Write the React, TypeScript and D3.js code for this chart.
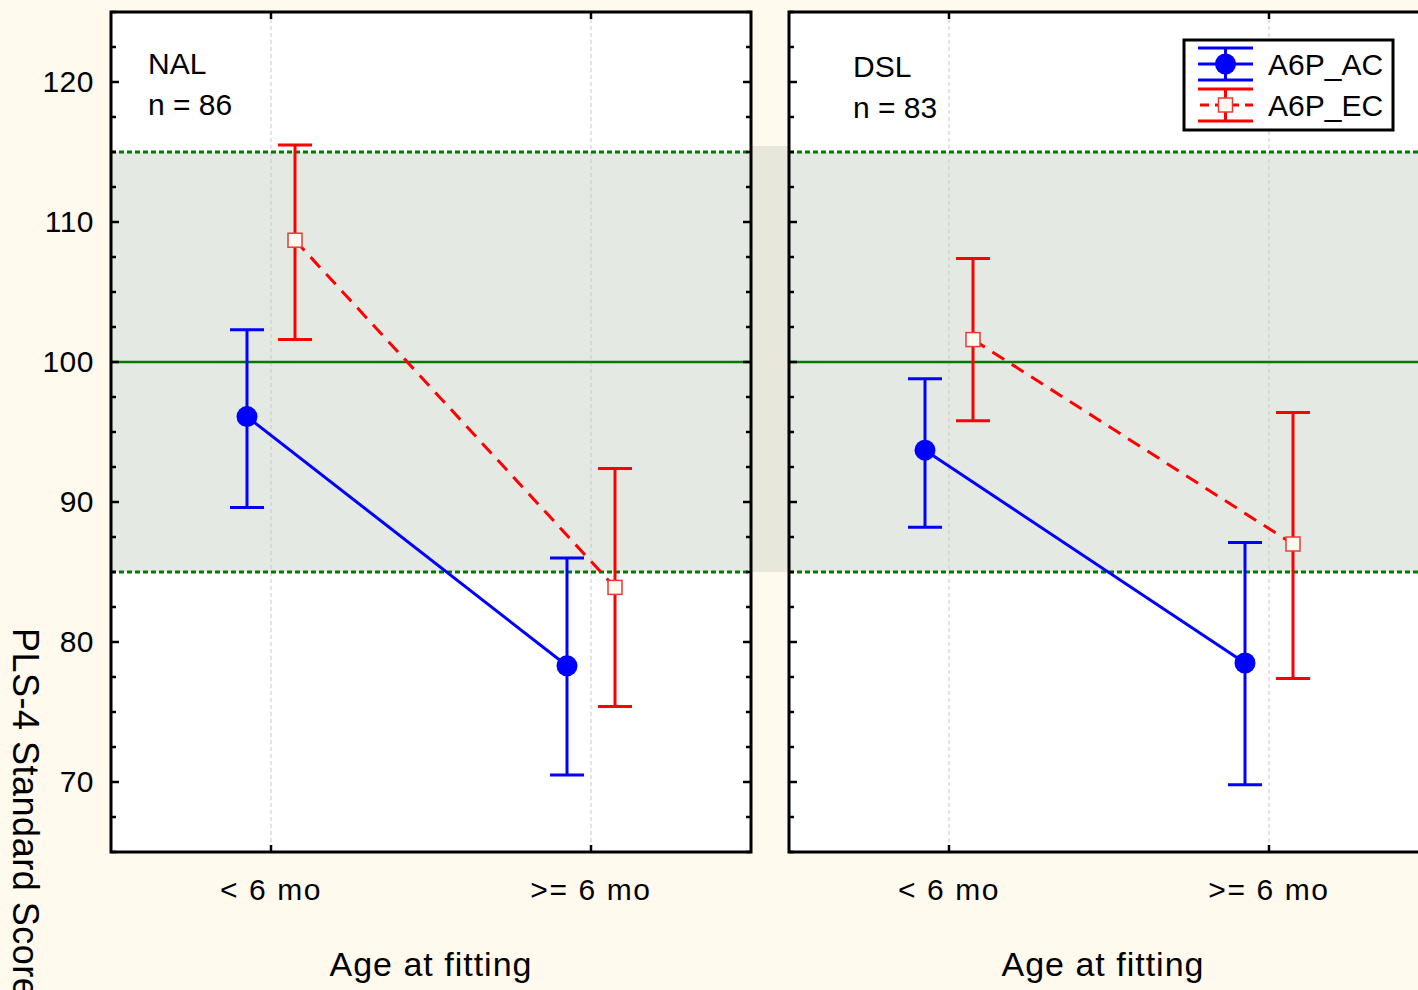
import React from "react";
import * as d3 from "d3";

const categories = ["< 6 mo", ">= 6 mo"];
const panelNames = ["NAL", "DSL"];
const panelN = ["n = 86", "n = 83"];
const seriesNames = ["A6P_AC", "A6P_EC"];

const nalACMean = [96.1, 78.3];
const nalACLow = [89.6, 70.5];
const nalACHigh = [102.3, 86.0];
const nalECMean = [108.7, 83.9];
const nalECLow = [101.6, 75.4];
const nalECHigh = [115.5, 92.4];

const dslACMean = [93.7, 78.5];
const dslACLow = [88.2, 69.8];
const dslACHigh = [98.8, 87.1];
const dslECMean = [101.6, 87.0];
const dslECLow = [95.8, 77.4];
const dslECHigh = [107.4, 96.4];

const yTickLabels = [70, 80, 90, 100, 110, 120];
const bandLow = 85;
const bandHigh = 115;
const refLine = 100;

const W = 1418;
const H = 990;
const FONT = "'Liberation Sans', Arial, Helvetica, sans-serif";
const BG = "#FFF9EE";

const top = 12;
const bottom = 852;
const panelW = 640;
const panelLefts = [111, 789];
const labelOffsets = [37, 64];
const labelY = [[74, 115], [77, 118]];
const titleCenters = [320, 314];

const y = d3.scaleLinear().domain([65, 125]).range([bottom, top]);

type Series = { mean: number[]; low: number[]; high: number[] };
const panels: { ac: Series; ec: Series }[] = [
  {
    ac: { mean: nalACMean, low: nalACLow, high: nalACHigh },
    ec: { mean: nalECMean, low: nalECLow, high: nalECHigh },
  },
  {
    ac: { mean: dslACMean, low: dslACLow, high: dslACHigh },
    ec: { mean: dslECMean, low: dslECLow, high: dslECHigh },
  },
];

const BLUE = "#0000FF";
const RED = "#FF0000";
const GREEN = "#007A00";
const BAND = "#E5E9E3";
const LW = 3;

function Panel({ idx }: { idx: number }) {
  const x0 = panelLefts[idx];
  const x = d3
    .scalePoint<string>()
    .domain(categories)
    .range([x0, x0 + panelW])
    .padding(0.5);
  const p = panels[idx];
  const off = 24;
  const capW = 34;
  const minorTicks = d3.range(65, 125.01, 2.5);
  const lineGen = d3
    .line<[number, number]>()
    .x((d) => d[0])
    .y((d) => d[1]);
  const acPts: [number, number][] = categories.map((c, i) => [x(c)! - off, y(p.ac.mean[i])]);
  const ecPts: [number, number][] = categories.map((c, i) => [x(c)! + off, y(p.ec.mean[i])]);
  const clipId = `clip${idx}`;
  return (
    <g>
      <defs>
        <clipPath id={clipId}>
          <rect x={x0} y={top} width={panelW} height={bottom - top} />
        </clipPath>
      </defs>
      <rect x={x0} y={top} width={panelW} height={bottom - top} fill="#FFFFFF" />
      <rect
        x={x0}
        y={y(bandHigh)}
        width={panelW}
        height={y(bandLow) - y(bandHigh)}
        fill={BAND}
      />
      {categories.map((c) => (
        <line
          key={c}
          x1={x(c)}
          x2={x(c)}
          y1={top}
          y2={bottom}
          stroke="#C8C8C8"
          strokeWidth={1}
          strokeDasharray="4,3"
        />
      ))}
      <g clipPath={`url(#${clipId})`}>
        {[bandHigh, bandLow].map((v) => (
          <line
            key={v}
            x1={x0}
            x2={x0 + panelW}
            y1={y(v)}
            y2={y(v)}
            stroke={GREEN}
            strokeWidth={3}
            strokeDasharray="5,3"
          />
        ))}
        <line x1={x0} x2={x0 + panelW} y1={y(refLine)} y2={y(refLine)} stroke={GREEN} strokeWidth={2.5} />
      </g>
      {/* AC series */}
      <path d={lineGen(acPts)!} fill="none" stroke={BLUE} strokeWidth={LW} />
      {categories.map((c, i) => {
        const cx = x(c)! - off;
        return (
          <g key={"ac" + c}>
            <line x1={cx} x2={cx} y1={y(p.ac.low[i])} y2={y(p.ac.high[i])} stroke={BLUE} strokeWidth={LW} />
            <line x1={cx - capW / 2} x2={cx + capW / 2} y1={y(p.ac.low[i])} y2={y(p.ac.low[i])} stroke={BLUE} strokeWidth={LW} />
            <line x1={cx - capW / 2} x2={cx + capW / 2} y1={y(p.ac.high[i])} y2={y(p.ac.high[i])} stroke={BLUE} strokeWidth={LW} />
            <circle cx={cx} cy={y(p.ac.mean[i])} r={10.5} fill={BLUE} />
          </g>
        );
      })}
      {/* EC series */}
      <path d={lineGen(ecPts)!} fill="none" stroke={RED} strokeWidth={LW} strokeDasharray="14,9" />
      {categories.map((c, i) => {
        const cx = x(c)! + off;
        return (
          <g key={"ec" + c}>
            <line x1={cx} x2={cx} y1={y(p.ec.low[i])} y2={y(p.ec.high[i])} stroke={RED} strokeWidth={LW} />
            <line x1={cx - capW / 2} x2={cx + capW / 2} y1={y(p.ec.low[i])} y2={y(p.ec.low[i])} stroke={RED} strokeWidth={LW} />
            <line x1={cx - capW / 2} x2={cx + capW / 2} y1={y(p.ec.high[i])} y2={y(p.ec.high[i])} stroke={RED} strokeWidth={LW} />
            <rect x={cx - 7} y={y(p.ec.mean[i]) - 7} width={14} height={14} fill={BG} stroke="#E83A3A" strokeWidth={1.5} />
          </g>
        );
      })}
      {/* ticks */}
      {minorTicks.map((v) => {
        const major = Math.abs(v % 10) < 1e-6;
        const len = major ? 8 : 5;
        return (
          <g key={"t" + v}>
            <line x1={x0} x2={x0 + len} y1={y(v)} y2={y(v)} stroke="#000" strokeWidth={2.5} />
            <line x1={x0 + panelW} x2={x0 + panelW - len} y1={y(v)} y2={y(v)} stroke="#000" strokeWidth={2.5} />
          </g>
        );
      })}
      {categories.map((c) => (
        <g key={"xt" + c}>
          <line x1={x(c)} x2={x(c)} y1={top} y2={top + 7} stroke="#000" strokeWidth={2.5} />
          <line x1={x(c)} x2={x(c)} y1={bottom} y2={bottom - 7} stroke="#000" strokeWidth={2.5} />
        </g>
      ))}
      <rect x={x0} y={top} width={panelW} height={bottom - top} fill="none" stroke="#000" strokeWidth={3} />
      {/* panel labels */}
      <text x={x0 + labelOffsets[idx]} y={labelY[idx][0]} fontSize={30} fontFamily={FONT} fill="#000">
        {panelNames[idx]}
      </text>
      <text x={x0 + labelOffsets[idx]} y={labelY[idx][1]} fontSize={30} fontFamily={FONT} fill="#000">
        {panelN[idx]}
      </text>
      {/* x tick labels */}
      {categories.map((c) => (
        <text
          key={"xl" + c}
          x={x(c)}
          y={900}
          fontSize={30}
          fontFamily={FONT}
          textAnchor="middle"
          letterSpacing={1.6}
          fill="#000"
        >
          {c}
        </text>
      ))}
      <text
        x={x0 + titleCenters[idx]}
        y={976}
        fontSize={34}
        fontFamily={FONT}
        textAnchor="middle"
        letterSpacing={1}
        fill="#000"
      >
        Age at fitting
      </text>
    </g>
  );
}

function Legend() {
  const bx = 1184;
  const by = 40;
  const bw = 209;
  const bh = 90;
  const sx0 = 1198;
  const sx1 = 1253;
  const scx = (sx0 + sx1) / 2;
  const rows = [64, 105];
  return (
    <g>
      <rect x={bx} y={by} width={bw} height={bh} fill="#FFFFFF" stroke="#000" strokeWidth={3} />
      {/* AC */}
      <line x1={sx0} x2={sx1} y1={rows[0] - 16} y2={rows[0] - 16} stroke={BLUE} strokeWidth={LW} />
      <line x1={sx0} x2={sx1} y1={rows[0] + 16} y2={rows[0] + 16} stroke={BLUE} strokeWidth={LW} />
      <line x1={sx0} x2={sx1} y1={rows[0]} y2={rows[0]} stroke={BLUE} strokeWidth={LW} />
      <line x1={scx} x2={scx} y1={rows[0] - 16} y2={rows[0] + 16} stroke={BLUE} strokeWidth={LW} />
      <circle cx={scx} cy={rows[0]} r={10.5} fill={BLUE} />
      {/* EC */}
      <line x1={sx0} x2={sx1} y1={rows[1] - 16} y2={rows[1] - 16} stroke={RED} strokeWidth={LW} />
      <line x1={sx0} x2={sx1} y1={rows[1] + 16} y2={rows[1] + 16} stroke={RED} strokeWidth={LW} />
      <line x1={sx0} x2={sx1} y1={rows[1]} y2={rows[1]} stroke={RED} strokeWidth={LW} strokeDasharray="9,6" strokeDashoffset={-2} />
      <line x1={scx} x2={scx} y1={rows[1] - 16} y2={rows[1] + 16} stroke={RED} strokeWidth={LW} />
      <rect x={scx - 7} y={rows[1] - 7} width={14} height={14} fill={BG} stroke="#E83A3A" strokeWidth={1.5} />
      {seriesNames.map((s, i) => (
        <text key={s} x={1268} y={rows[i] + 11} fontSize={30} fontFamily={FONT} fill="#000">
          {s}
        </text>
      ))}
    </g>
  );
}

export default function App() {
  return (
    <svg
      width={W}
      height={H}
      style={{ position: "absolute", left: 0, top: 0, display: "block" }}
    >
      <rect x={0} y={0} width={W} height={H} fill={BG} />
      <rect x={752} y={146} width={37} height={y(bandLow) - 146} fill="#E7E7DB" />
      <Panel idx={0} />
      <Panel idx={1} />
      {yTickLabels.map((v) => (
        <text
          key={v}
          x={94}
          y={y(v) + 10}
          fontSize={30}
          fontFamily={FONT}
          textAnchor="end"
          letterSpacing={0.5}
          fill="#000"
        >
          {v}
        </text>
      ))}
      <text
        transform={`translate(13, 628) rotate(90)`}
        fontSize={36}
        fontFamily={FONT}
        fill="#000"
        letterSpacing={0.5}
      >
        PLS-4 Standard Score
      </text>
      <Legend />
    </svg>
  );
}
